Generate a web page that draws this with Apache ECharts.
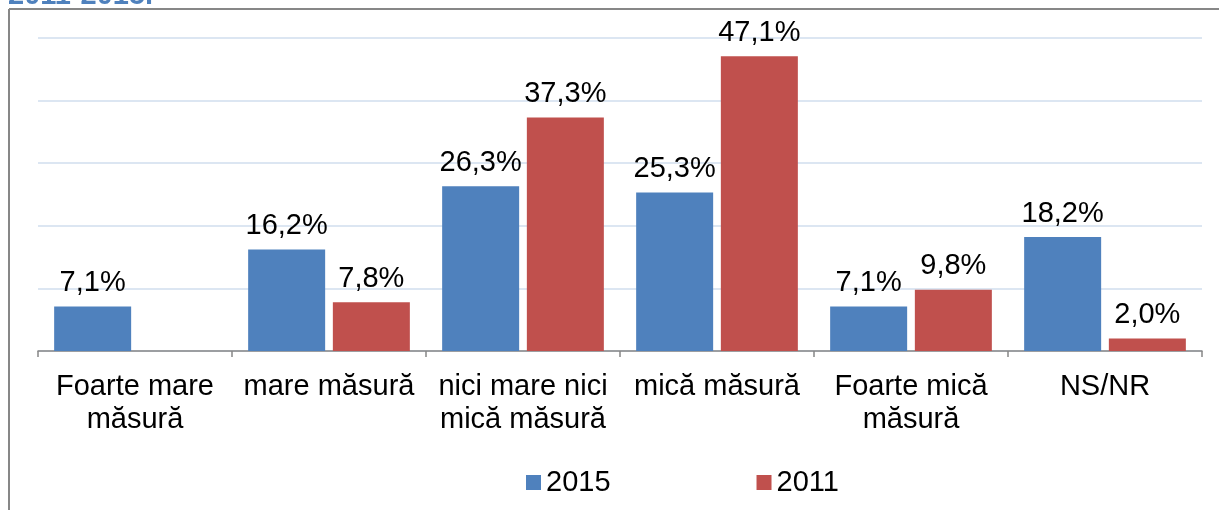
<!DOCTYPE html>
<html>
<head>
<meta charset="utf-8">
<script src="https://cdn.jsdelivr.net/npm/echarts@6/dist/echarts.min.js"></script>
<style>
    html, body { margin: 0; padding: 0; background: #fff; }
    #chart { width: 1219px; height: 510px; }
</style>
</head>
<body>
<div id="chart"></div>
<script>
var categories = ["Foarte mare\nmăsură", "mare măsură", "nici mare nici\nmică măsură", "mică măsură", "Foarte mică\nmăsură", "NS/NR"];
var values2015 = [7.1, 16.2, 26.3, 25.3, 7.1, 18.2];
var values2011 = [null, 7.8, 37.3, 47.1, 9.8, 2.0];
var seriesNames = ["2015", "2011"];
var titleText = "2011-2015.";

var font = "Arial, 'Liberation Sans', sans-serif";

function pct(p) {
    if (p.value == null) return "";
    return p.value.toFixed(1).replace(".", ",") + "%";
}

var chart = echarts.init(document.getElementById("chart"));

var labelStyle = {
    show: true,
    position: "top",
    distance: 9,
    color: "#000",
    fontSize: 29,
    fontFamily: font,
    formatter: pct
};

chart.setOption({
    animation: false,
    textStyle: { fontFamily: font },
    grid: { left: 38, right: 17, top: 38, bottom: 159 },
    graphic: [
        // frame of the chart area (right and bottom edges are out of view)
        { type: "line", shape: { x1: 9, y1: 9, x2: 1219, y2: 9 }, style: { stroke: "#878787", lineWidth: 2 } },
        { type: "line", shape: { x1: 9, y1: 9, x2: 9, y2: 510 }, style: { stroke: "#878787", lineWidth: 2 } },
        // caption above the frame, cut off at the top
        {
            type: "text",
            x: 8,
            y: -19,
            style: {
                text: titleText,
                fill: "#4f81bd",
                fontSize: 29,
                fontWeight: "bold",
                fontFamily: font,
                verticalAlign: "top"
            }
        }
    ],
    legend: {
        left: 521,
        top: 463,
        itemWidth: 15,
        itemHeight: 15,
        itemGap: 146,
        icon: "rect",
        textStyle: { fontSize: 29, color: "#000", fontFamily: font },
        data: seriesNames
    },
    xAxis: {
        type: "category",
        data: categories,
        axisLine: { lineStyle: { color: "#868686", width: 1.5 } },
        axisTick: { show: true, length: 6, lineStyle: { color: "#868686", width: 1.5 } },
        axisLabel: { color: "#000", fontSize: 29, lineHeight: 33, margin: 19, fontFamily: font, interval: 0 }
    },
    yAxis: {
        type: "value",
        min: 0,
        max: 50,
        interval: 10,
        axisLabel: { show: false },
        axisLine: { show: false },
        axisTick: { show: false },
        splitLine: { lineStyle: { color: "#dce6f2", width: 2 } }
    },
    series: [
        {
            name: seriesNames[0],
            type: "bar",
            data: values2015,
            barWidth: 77,
            barGap: "10%",
            itemStyle: { color: "#4f81bd" },
            label: labelStyle
        },
        {
            name: seriesNames[1],
            type: "bar",
            data: values2011,
            barWidth: 77,
            barGap: "10%",
            itemStyle: { color: "#c0504d" },
            label: labelStyle
        }
    ]
});
</script>
</body>
</html>
